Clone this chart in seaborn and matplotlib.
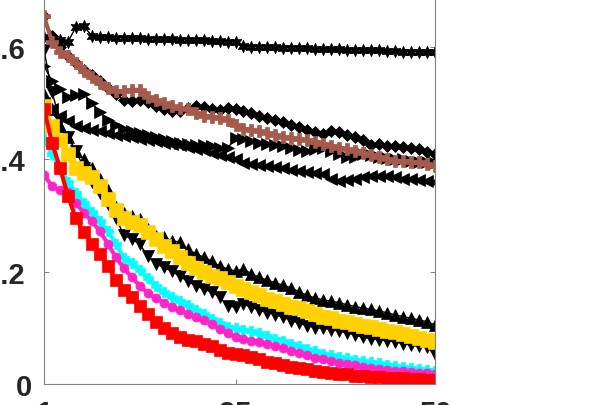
import matplotlib
matplotlib.use("Agg")
import matplotlib.pyplot as plt
import matplotlib.transforms as mtransforms
import seaborn as sns
import numpy as np

# x positions (iterations 1..50)
steps = list(range(1, 51))

# black series (markers only look)
hexagramVals = [0.618, 0.616, 0.613, 0.609, 0.636, 0.638, 0.619, 0.618, 0.618, 0.617,
                0.617, 0.616, 0.616, 0.615, 0.615, 0.614, 0.614, 0.613, 0.613, 0.612,
                0.612, 0.611, 0.611, 0.610, 0.609, 0.602, 0.601, 0.601, 0.600, 0.600,
                0.599, 0.599, 0.598, 0.598, 0.597, 0.597, 0.596, 0.596, 0.595, 0.595,
                0.595, 0.594, 0.594, 0.593, 0.593, 0.592, 0.592, 0.592, 0.591, 0.591]
diamondVals = [0.655, 0.620, 0.600, 0.585, 0.572, 0.560, 0.550, 0.540, 0.528, 0.516,
               0.506, 0.504, 0.506, 0.502, 0.496, 0.490, 0.487, 0.486, 0.492, 0.495,
               0.493, 0.490, 0.488, 0.492, 0.490, 0.486, 0.482, 0.477, 0.473, 0.470,
               0.466, 0.462, 0.458, 0.452, 0.449, 0.446, 0.450, 0.448, 0.443, 0.440,
               0.434, 0.426, 0.427, 0.423, 0.424, 0.422, 0.421, 0.418, 0.414, 0.410]
rightTriVals = [0.566, 0.540, 0.525, 0.512, 0.514, 0.516, 0.500, 0.485, 0.470, 0.462,
                0.455, 0.450, 0.447, 0.443, 0.440, 0.436, 0.432, 0.430, 0.428, 0.426,
                0.425, 0.423, 0.420, 0.420, 0.438, 0.436, 0.432, 0.430, 0.428, 0.426,
                0.424, 0.420, 0.416, 0.415, 0.418, 0.420, 0.415, 0.410, 0.405, 0.404,
                0.410, 0.408, 0.405, 0.402, 0.400, 0.400, 0.398, 0.396, 0.395, 0.393]
leftTriVals = [0.500, 0.490, 0.478, 0.468, 0.460, 0.456, 0.452, 0.450, 0.447, 0.444,
               0.442, 0.440, 0.437, 0.434, 0.432, 0.430, 0.428, 0.425, 0.422, 0.419,
               0.416, 0.412, 0.408, 0.405, 0.400, 0.394, 0.392, 0.390, 0.388, 0.386,
               0.384, 0.382, 0.380, 0.378, 0.376, 0.374, 0.366, 0.362, 0.364, 0.366,
               0.368, 0.370, 0.370, 0.370, 0.368, 0.366, 0.365, 0.364, 0.362, 0.360]
upTriVals = [0.516, 0.490, 0.460, 0.440, 0.415, 0.400, 0.385, 0.365, 0.345, 0.315,
             0.305, 0.299, 0.294, 0.276, 0.264, 0.262, 0.255, 0.253, 0.240, 0.232,
             0.226, 0.219, 0.210, 0.205, 0.201, 0.205, 0.196, 0.190, 0.185, 0.180,
             0.176, 0.171, 0.164, 0.158, 0.153, 0.150, 0.147, 0.145, 0.141, 0.138,
             0.135, 0.133, 0.130, 0.127, 0.123, 0.120, 0.117, 0.114, 0.111, 0.105]
downTriVals = [0.595, 0.520, 0.470, 0.440, 0.415, 0.385, 0.360, 0.340, 0.320, 0.296,
               0.265, 0.258, 0.249, 0.228, 0.214, 0.208, 0.201, 0.192, 0.183, 0.175,
               0.169, 0.164, 0.155, 0.139, 0.137, 0.142, 0.137, 0.131, 0.127, 0.123,
               0.119, 0.113, 0.108, 0.104, 0.100, 0.099, 0.097, 0.094, 0.091, 0.087,
               0.083, 0.081, 0.079, 0.077, 0.075, 0.072, 0.069, 0.067, 0.066, 0.053]

# coloured series
yellowVals = [0.495, 0.460, 0.435, 0.410, 0.385, 0.375, 0.368, 0.352, 0.330, 0.310,
              0.295, 0.289, 0.283, 0.270, 0.258, 0.246, 0.236, 0.226, 0.216, 0.207,
              0.199, 0.193, 0.188, 0.182, 0.174, 0.170, 0.164, 0.158, 0.152, 0.148,
              0.143, 0.138, 0.135, 0.130, 0.125, 0.120, 0.117, 0.113, 0.110, 0.107,
              0.104, 0.101, 0.098, 0.095, 0.092, 0.089, 0.086, 0.082, 0.078, 0.074]
cyanVals = [0.436, 0.410, 0.385, 0.360, 0.340, 0.322, 0.307, 0.290, 0.272, 0.250,
            0.225, 0.215, 0.203, 0.188, 0.175, 0.163, 0.155, 0.147, 0.140, 0.132,
            0.125, 0.115, 0.108, 0.101, 0.099, 0.097, 0.094, 0.090, 0.085, 0.081,
            0.077, 0.072, 0.068, 0.063, 0.058, 0.054, 0.051, 0.048, 0.046, 0.043,
            0.041, 0.039, 0.037, 0.034, 0.032, 0.030, 0.028, 0.026, 0.025, 0.024]
magentaVals = [0.373, 0.352, 0.345, 0.342, 0.322, 0.305, 0.290, 0.272, 0.250, 0.226,
               0.206, 0.190, 0.175, 0.162, 0.153, 0.145, 0.138, 0.131, 0.125, 0.120,
               0.114, 0.106, 0.098, 0.091, 0.084, 0.080, 0.077, 0.075, 0.072, 0.068,
               0.064, 0.059, 0.055, 0.051, 0.047, 0.044, 0.041, 0.038, 0.035, 0.033,
               0.031, 0.029, 0.027, 0.025, 0.024, 0.023, 0.021, 0.020, 0.019, 0.018]
brownVals = [0.655, 0.610, 0.592, 0.584, 0.572, 0.558, 0.547, 0.536, 0.528, 0.522,
             0.521, 0.524, 0.524, 0.512, 0.505, 0.500, 0.495, 0.491, 0.489, 0.482,
             0.478, 0.476, 0.474, 0.470, 0.462, 0.455, 0.452, 0.450, 0.447, 0.443,
             0.440, 0.438, 0.436, 0.434, 0.431, 0.428, 0.424, 0.421, 0.418, 0.415,
             0.412, 0.408, 0.405, 0.401, 0.398, 0.397, 0.396, 0.395, 0.392, 0.389]
redVals = [0.490, 0.430, 0.385, 0.335, 0.295, 0.270, 0.250, 0.232, 0.210, 0.186,
           0.168, 0.155, 0.139, 0.125, 0.111, 0.100, 0.091, 0.084, 0.079, 0.076,
           0.072, 0.067, 0.061, 0.056, 0.054, 0.052, 0.048, 0.045, 0.040, 0.037,
           0.034, 0.031, 0.028, 0.026, 0.024, 0.022, 0.020, 0.018, 0.017, 0.015,
           0.014, 0.013, 0.012, 0.011, 0.010, 0.010, 0.009, 0.009, 0.008, 0.008]

yTicks = [0, 0.2, 0.4, 0.6]
yTickLabels = ["0", "0.2", "0.4", "0.6"]
xTicks = [1, 25, 50]
xTickLabels = ["1", "25", "50"]

sns.set_theme(style="white")
plt.rcParams['font.family'] = ['Liberation Sans', 'DejaVu Sans']

fig = plt.figure(figsize=(5.98, 4.06), dpi=100)
ax = fig.add_axes([44 / 598, 21 / 406, 391 / 598, 385 / 406])

# (values, marker, markersize)
blackSeries = [
    (hexagramVals, (6, 1, 0), 9.0),
    (diamondVals, "D", 6.5),
    (rightTriVals, ">", 8.5),
    (leftTriVals, "<", 8.5),
    (upTriVals, "^", 8.5),
    (downTriVals, "v", 8.5),
]
for vals, mk, ms in blackSeries:
    sns.lineplot(x=steps, y=vals, ax=ax, color="black", marker=mk, markersize=ms,
                 markeredgecolor="black", markeredgewidth=0.5, linewidth=1.0)

# (values, colour, marker, markersize, linewidth)
colourSeries = [
    (yellowVals, "#FFD100", "s", 10.0, 3.0),
    (cyanVals, "#00FFFF", "P", 7.0, 3.0),
    (magentaVals, "#FF24C8", "o", 6.5, 3.0),
    (brownVals, "#A65A4C", "P", 8.0, 3.0),
    (redVals, "#FF0000", "s", 8.0, 3.0),
]
for vals, col, mk, ms, lw in colourSeries:
    sns.lineplot(x=steps, y=vals, ax=ax, color=col, marker=mk, markersize=ms,
                 markeredgecolor=col, markeredgewidth=0.5, linewidth=lw)

ax.set_xlim(1, 50)
ax.set_ylim(0, 0.6857)
ax.set_xticks(xTicks)
ax.set_xticklabels(xTickLabels)
ax.set_yticks(yTicks)
ax.set_yticklabels(yTickLabels)

for side in ["left", "bottom", "right"]:
    ax.spines[side].set_color("#808080")
    ax.spines[side].set_linewidth(0.8)
ax.spines["top"].set_visible(False)

ax.tick_params(axis="both", direction="in", length=3.5, width=0.7, color="#808080",
               labelsize=21, labelcolor="#262626")
ax.tick_params(axis="y", right=True, left=True, pad=13.5)
ax.tick_params(axis="x", bottom=True, pad=10.8)
for lab in ax.get_xticklabels() + ax.get_yticklabels():
    lab.set_fontweight("bold")

# "0" label sits a bit closer to the axis in the original
zeroLab = ax.get_yticklabels()[0]
zeroLab.set_transform(zeroLab.get_transform() +
                      mtransforms.ScaledTranslation(7 / 100, 0, fig.dpi_scale_trans))

fig.savefig("out.png", dpi=100)
